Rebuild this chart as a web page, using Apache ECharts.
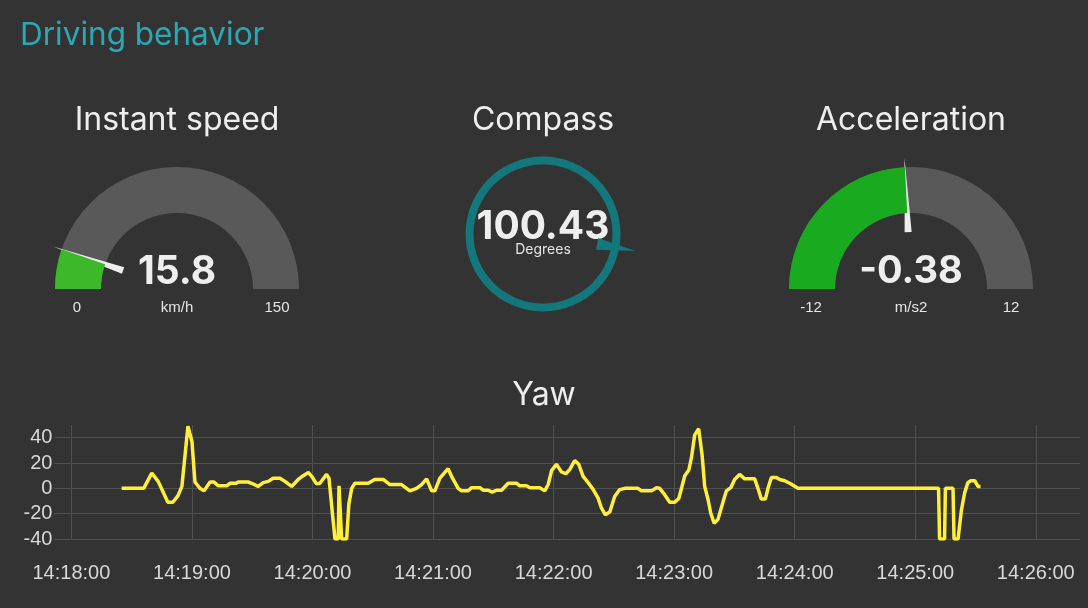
<!DOCTYPE html>
<html><head><meta charset="utf-8">
<script src="https://cdn.jsdelivr.net/npm/echarts@6/dist/echarts.min.js"></script>
<style>html,body{margin:0;padding:0;background:#333333;} #c{width:1088px;height:608px;}</style>
</head><body><div id="c"></div>
<script>
// ---- data ----
const pageTitle = 'Driving behavior';
const gaugeTitles = ['Instant speed', 'Compass', 'Acceleration'];
const speedValue = 15.8, speedMin = 0, speedMax = 150, speedUnit = 'km/h';
const compassValue = 100.43, compassMin = 0, compassMax = 360, compassUnit = 'Degrees';
const accelValue = -0.38, accelMin = -12, accelMax = 12, accelUnit = 'm/s2';
const yawTitle = 'Yaw';
const yawStart = '14:18:00';
// seconds after 14:18:00
const yawSeconds = [25,36,40,43.2,48,50.5,53,55,58,60,61.5,64,66,69,71,73,77.3,79,82,83,88,89.7,93,95.5,98,100.4,103.8,106.3,109.6,112.9,115.4,117.9,119.6,122,123.7,127,128.2,130.3,131.2,132.8,133.2,134.1,134.5,137,138.1,139.5,141.1,147.7,151,155.2,158.5,164.3,168.5,171.8,174.3,176.8,179.3,180.9,183.4,187.5,189.2,192.5,194.2,197.5,199.1,203.3,204.9,207.4,209.4,211.6,214.1,217.4,221.5,223.2,226.5,228.2,233.1,235.6,237.3,239,241.4,243.9,246.1,248.1,250.5,252.5,254.7,257.2,259.7,262.1,263.8,265.8,268,270.4,272.9,275.4,282,283.7,288.7,291.2,292.8,295.3,297.8,300.3,302.3,303.9,305.3,307.3,308.6,310.2,312.2,313.9,315.2,316.9,318.2,319.9,321.8,324,326,328.2,330.1,332.6,335.1,340.1,341.7,343.4,345.4,346.7,348.4,350.9,352.5,355,357.5,359.2,361.6,431.6,432.1,434.6,435,438.8,439.3,441.3,443,444.6,446.2,447.6,449.6,451.2,452.5];
const yawValues = [0,0,12,5.5,-11,-11,-6,1.5,49,37,5,0,-2,5,5,2,2,4,4,5,5,4,1.5,4.5,5.5,8,8,5.5,1.5,7,10,12.5,9.5,3.5,4,11,8,-26,-40,-40,2,2,-40,-40,-12.5,0,4,4,7,7,3,3,-2,0,3,7.5,-2,-2,8,15.5,9.5,0,-2,-2,0.5,0.5,-1.5,-1.5,-3,-1.5,-1.5,4,4,2,2,0.5,0.5,-2,3,14,19,13,11.5,15,22,19,9.5,4.5,-1,-7.5,-15.5,-21,-18.5,-6.5,-1,0,0,-2,-2,0.5,0,-5,-11,-11,-8,1.5,10,14.5,24,42,47,26.5,1.5,-9,-19.5,-27.5,-24.5,-12.5,-2,0.5,7,11,7.5,7.5,0,-8.5,-8.5,0,8.5,8.5,7,6,4,2.5,0,0,-40,-40,0,0,-40,-40,-17,-3.5,4.5,6,6,1.5,1.5];
const yawTickSeconds = [0,60,120,180,240,300,360,420,480];
const yawTickValues = [-40,-20,0,20,40];
const yawXMax = 502, yawYMin = -40, yawYMax = 50;

// ---- styles ----
const uiFont = 'Inter, "Noto Sans", sans-serif';
const axisFont = '"Liberation Sans", Arial, sans-serif';
const gridColor = '#505050';
const textColor = '#eeeeee';

function fmtTime(s) {
  const p = yawStart.split(':').map(Number);
  let t = p[0] * 3600 + p[1] * 60 + p[2] + Math.round(s);
  const h = Math.floor(t / 3600), m = Math.floor((t % 3600) / 60), sec = t % 60;
  const z = n => (n < 10 ? '0' : '') + n;
  return h + ':' + z(m) + ':' + z(sec);
}

const needle = 'path://M3.5 0 L7 74 L0 74 Z M3.5 131 L3.5 131';
const compassNeedle = 'path://M6 0 L12 39 L0 39 Z M6 94 L6 94';

function halfGauge(center, min, max, value, unit, color, valueSize) {
  return {
    type: 'gauge', center: center, radius: 122, startAngle: 180, endAngle: 0,
    min: min, max: max, splitNumber: 1,
    axisLine: { lineStyle: { width: 46, color: [[1, '#595959']] } },
    progress: { show: true, width: 46, itemStyle: { color: color } },
    splitLine: { show: false, length: 0, distance: 0 },
    axisTick: { show: false },
    axisLabel: {
      show: true, distance: 2, color: '#e6e6e6', fontSize: 15, fontFamily: axisFont,
      formatter: v => '{a|' + v + '}',
      rich: { a: { width: 40, align: 'center', padding: [38, 0, 0, 0], fontSize: 15, color: '#e6e6e6', fontFamily: axisFont } }
    },
    pointer: { show: true, icon: needle, length: 131, width: 7, itemStyle: { color: '#eeeeee' } },
    anchor: { show: false },
    title: { show: true, offsetCenter: [0, 19], color: '#e6e6e6', fontSize: 15, fontFamily: axisFont },
    detail: { offsetCenter: [0, -17], fontSize: valueSize, fontWeight: 'bold', color: textColor, fontFamily: uiFont, valueAnimation: false },
    data: [{ value: value, name: unit }]
  };
}

const chart = echarts.init(document.getElementById('c'), null, { renderer: 'canvas' });
const hdr = (text, x, y, size, color) => ({
  text: text, left: x, top: y, textAlign: 'center', textVerticalAlign: 'middle', padding: 0,
  textStyle: { color: color || textColor, fontSize: size, fontWeight: 'normal', fontFamily: uiFont }
});

chart.setOption({
  animation: false,
  backgroundColor: '#333333',
  title: [
    { text: pageTitle, left: 20, top: 36, textVerticalAlign: 'middle', padding: 0,
      textStyle: { color: '#2aa9b5', fontSize: 31.5, fontWeight: 'normal', fontFamily: uiFont } },
    hdr(gaugeTitles[0], 177, 120, 32),
    hdr(gaugeTitles[1], 543, 120, 32),
    hdr(gaugeTitles[2], 911, 120, 32),
    hdr(yawTitle, 544, 395, 32)
  ],
  grid: { left: 71.4, right: 8, top: 425, height: 114 },
  xAxis: {
    type: 'value', min: 0, max: yawXMax,
    axisLine: { show: false },
    axisTick: { show: true, length: 19, customValues: yawTickSeconds, lineStyle: { color: gridColor } },
    splitLine: { show: true, lineStyle: { color: gridColor } },
    axisLabel: { customValues: yawTickSeconds, formatter: fmtTime, margin: 24, color: '#d8d8d8', fontSize: 20, fontFamily: axisFont }
  },
  yAxis: {
    type: 'value', min: yawYMin, max: yawYMax,
    axisLine: { show: false },
    axisTick: { show: true, length: 17, customValues: yawTickValues, lineStyle: { color: gridColor } },
    splitLine: { show: true, lineStyle: { color: gridColor } },
    axisLabel: { customValues: yawTickValues, margin: 19, color: '#d8d8d8', fontSize: 20, fontFamily: axisFont }
  },
  series: [
    halfGauge([177, 289], speedMin, speedMax, speedValue, speedUnit, '#3cb82a', 39),
    {
      type: 'gauge', center: [543, 234], radius: 77.5, startAngle: 90, endAngle: -270,
      min: compassMin, max: compassMax,
      axisLine: { lineStyle: { width: 8, color: [[1, '#13777b']] } },
      splitLine: { show: false }, axisTick: { show: false }, axisLabel: { show: false },
      pointer: { show: true, icon: compassNeedle, length: 94, width: 12, itemStyle: { color: '#13777b' } },
      anchor: { show: false },
      title: { offsetCenter: [0, 16], fontSize: 14, color: '#e6e6e6', fontFamily: uiFont },
      detail: { offsetCenter: [0, -7], fontSize: 39, fontWeight: 'bold', color: textColor, fontFamily: uiFont, valueAnimation: false },
      data: [{ value: compassValue, name: compassUnit }]
    },
    halfGauge([911, 289], accelMin, accelMax, accelValue, accelUnit, '#1aaa1f', 38),
    {
      type: 'line', showSymbol: false, symbol: 'none',
      data: yawSeconds.map((s, i) => [s, yawValues[i]]),
      lineStyle: { color: '#ffee3a', width: 3.5 },
      z: 3
    }
  ]
});
</script></body></html>
